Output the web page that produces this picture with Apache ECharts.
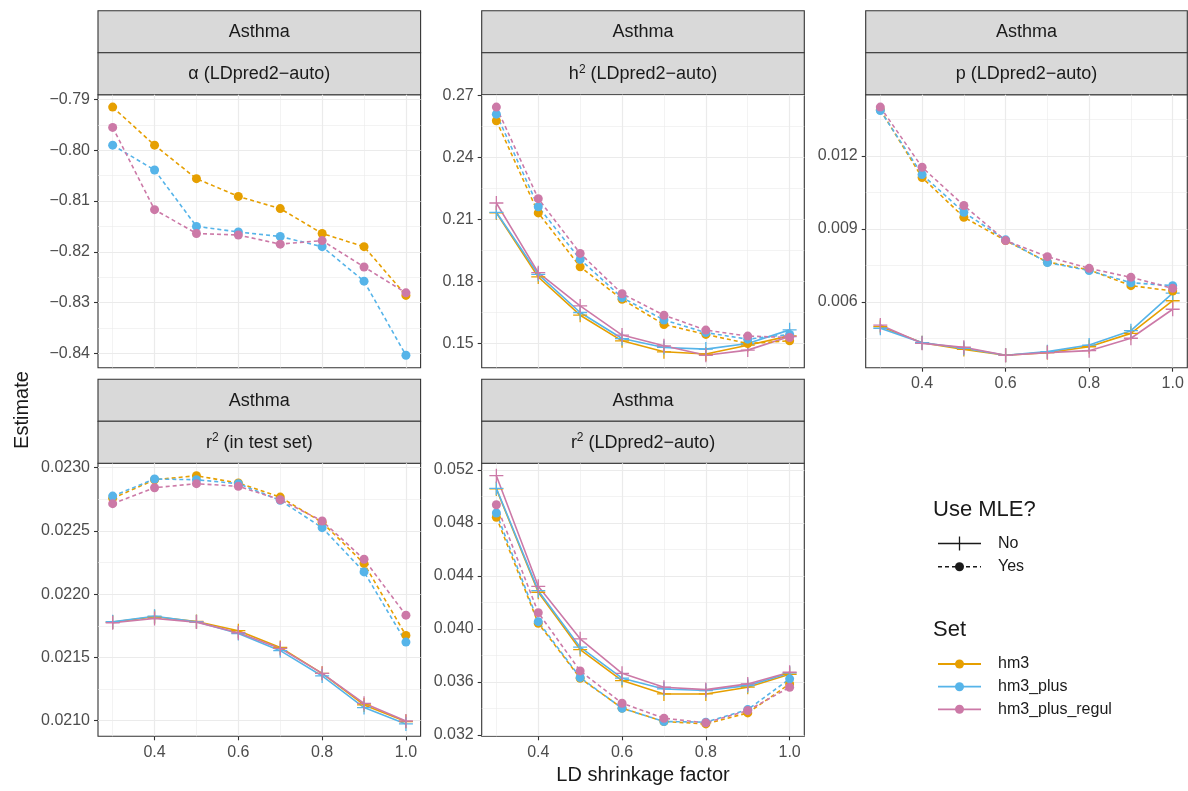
<!DOCTYPE html>
<html>
<head>
<meta charset="utf-8">
<script src="https://cdn.jsdelivr.net/npm/echarts@6/dist/echarts.min.js"></script>
<style>
  html, body { margin: 0; padding: 0; background: #ffffff; }
  #chart { width: 1188px; height: 791px; }
</style>
</head>
<body>
<div id="chart"></div>
<script>
// LD shrinkage factor (x) and the three variant sets
const shrink = [0.3, 0.4, 0.5, 0.6, 0.7, 0.8, 0.9, 1.0];
const shrinkTicks = [0.4, 0.6, 0.8, 1.0];
const sets = ['hm3', 'hm3_plus', 'hm3_plus_regul'];
const setColors = ['#E69F00', '#56B4E9', '#CC79A7'];

// alpha (LDpred2-auto), only estimated with MLE
const alphaYesHm3   = [-0.7915, -0.7990, -0.8056, -0.8091, -0.8115, -0.8164, -0.8190, -0.8286];
const alphaYesPlus  = [-0.7990, -0.8039, -0.8150, -0.8161, -0.8170, -0.8190, -0.8258, -0.8404];
const alphaYesRegul = [-0.7955, -0.8117, -0.8164, -0.8167, -0.8185, -0.8178, -0.8230, -0.8281];
const alphaTicks = [-0.84, -0.83, -0.82, -0.81, -0.80, -0.79];

// h2 (LDpred2-auto)
const h2YesHm3   = [0.2576, 0.2130, 0.1869, 0.1712, 0.1590, 0.1542, 0.1498, 0.1511];
const h2YesPlus  = [0.2608, 0.2160, 0.1905, 0.1720, 0.1612, 0.1551, 0.1519, 0.1542];
const h2YesRegul = [0.2642, 0.2199, 0.1934, 0.1739, 0.1635, 0.1563, 0.1534, 0.1527];
const h2NoHm3    = [0.2130, 0.1820, 0.1635, 0.1511, 0.1458, 0.1447, 0.1490, 0.1535];
const h2NoPlus   = [0.2133, 0.1833, 0.1648, 0.1522, 0.1479, 0.1471, 0.1498, 0.1564];
const h2NoRegul  = [0.2178, 0.1841, 0.1680, 0.1539, 0.1487, 0.1441, 0.1466, 0.1532];
const h2Ticks = [0.15, 0.18, 0.21, 0.24, 0.27];

// p (LDpred2-auto)
const pYesHm3   = [0.01389, 0.01111, 0.00948, 0.00852, 0.00764, 0.00732, 0.00667, 0.00645];
const pYesPlus  = [0.01386, 0.01123, 0.00968, 0.00855, 0.00762, 0.00729, 0.00679, 0.00667];
const pYesRegul = [0.01400, 0.01153, 0.00996, 0.00852, 0.00786, 0.00738, 0.00701, 0.00656];
const pNoHm3    = [0.00499, 0.00433, 0.00405, 0.00381, 0.00392, 0.00416, 0.00471, 0.00605];
const pNoPlus   = [0.00492, 0.00433, 0.00410, 0.00381, 0.00396, 0.00423, 0.00482, 0.00636];
const pNoRegul  = [0.00505, 0.00430, 0.00414, 0.00381, 0.00392, 0.00400, 0.00451, 0.00570];
const pTicks = [0.006, 0.009, 0.012];

// r2 (in test set)
const r2TestYesHm3   = [0.022758, 0.022905, 0.022937, 0.022879, 0.022768, 0.022568, 0.022242, 0.021674];
const r2TestYesPlus  = [0.022776, 0.022911, 0.022905, 0.022874, 0.022742, 0.022526, 0.022176, 0.021621];
const r2TestYesRegul = [0.022716, 0.022842, 0.022874, 0.022853, 0.022747, 0.022579, 0.022276, 0.021834];
const r2TestNoHm3    = [0.021779, 0.021821, 0.021784, 0.021711, 0.021579, 0.021374, 0.021124, 0.020992];
const r2TestNoPlus   = [0.021782, 0.021826, 0.021782, 0.021689, 0.021553, 0.021353, 0.021103, 0.020974];
const r2TestNoRegul  = [0.021774, 0.021808, 0.021779, 0.021695, 0.021571, 0.021374, 0.021137, 0.020997];
const r2TestTicks = [0.0210, 0.0215, 0.0220, 0.0225, 0.0230];

// r2 (LDpred2-auto)
const r2AutoYesHm3   = [0.04843, 0.04043, 0.03628, 0.03402, 0.03301, 0.03283, 0.03366, 0.03585];
const r2AutoYesPlus  = [0.04875, 0.04055, 0.03633, 0.03401, 0.03301, 0.03296, 0.03391, 0.03623];
const r2AutoYesRegul = [0.04938, 0.04123, 0.03683, 0.03439, 0.03326, 0.03291, 0.03384, 0.03560];
const r2AutoNoHm3    = [0.05057, 0.04277, 0.03844, 0.03610, 0.03509, 0.03509, 0.03560, 0.03658];
const r2AutoNoPlus   = [0.05062, 0.04289, 0.03862, 0.03628, 0.03547, 0.03535, 0.03572, 0.03668];
const r2AutoNoRegul  = [0.05157, 0.04322, 0.03925, 0.03665, 0.03560, 0.03542, 0.03585, 0.03673];
const r2AutoTicks = [0.032, 0.036, 0.040, 0.044, 0.048, 0.052];

const FONT = '"Liberation Sans", Arial, Helvetica, sans-serif';
const INK = '#1a1a1a';
const FRAME = '#333333';
const GRID = '#ebebeb';

// facet panels: strip label (rich text), series, y ticks, label digits, grid cell
const panels = [
  { title: '{t|α (LDpred2−auto)}', yes: [alphaYesHm3, alphaYesPlus, alphaYesRegul], no: [],
    ticks: alphaTicks, digits: 2, col: 0, row: 0, showX: false },
  { title: '{t|h}{s|2}{t| (LDpred2−auto)}', yes: [h2YesHm3, h2YesPlus, h2YesRegul], no: [h2NoHm3, h2NoPlus, h2NoRegul],
    ticks: h2Ticks, digits: 2, col: 1, row: 0, showX: false },
  { title: '{t|p (LDpred2−auto)}', yes: [pYesHm3, pYesPlus, pYesRegul], no: [pNoHm3, pNoPlus, pNoRegul],
    ticks: pTicks, digits: 3, col: 2, row: 0, showX: true },
  { title: '{t|r}{s|2}{t| (in test set)}', yes: [r2TestYesHm3, r2TestYesPlus, r2TestYesRegul], no: [r2TestNoHm3, r2TestNoPlus, r2TestNoRegul],
    ticks: r2TestTicks, digits: 4, col: 0, row: 1, showX: true },
  { title: '{t|r}{s|2}{t| (LDpred2−auto)}', yes: [r2AutoYesHm3, r2AutoYesPlus, r2AutoYesRegul], no: [r2AutoNoHm3, r2AutoNoPlus, r2AutoNoRegul],
    ticks: r2AutoTicks, digits: 3, col: 1, row: 1, showX: true }
];

// layout of the facet grid
const colLeft = [98, 481.7, 865.7];
const colWidth = [322.6, 322.6, 321.6];
const rowStripTop = [10.7, 379.3];
const STRIP_H = 42;
const PANEL_H = 273;

// expanded range (5% on each side), like a ggplot continuous scale
function expanded(values) {
  const lo = Math.min(...values), hi = Math.max(...values);
  const pad = (hi - lo) * 0.05;
  return [lo - pad, hi + pad];
}
// minor breaks half-way between major ones, kept inside the range
function minorBreaks(ticks, range) {
  const step = ticks[1] - ticks[0];
  const out = [];
  for (let k = -1; k < ticks.length; k++) {
    const v = ticks[0] + (k + 0.5) * step;
    if (v >= range[0] && v <= range[1]) out.push(+v.toPrecision(10));
  }
  return out;
}
const fmt = (d) => (v) => v.toFixed(d).replace('-', '\u2212');

const xRange = expanded(shrink);
const xMinor = minorBreaks(shrinkTicks, xRange);

const CROSS = 'path://M-0.65,-7H0.65V7H-0.65Z M-7,-0.65H7V0.65H-7Z';

const grids = [], xAxes = [], yAxes = [], series = [], graphics = [];

panels.forEach((pn, i) => {
  const left = colLeft[pn.col], width = colWidth[pn.col];
  const stripTop = rowStripTop[pn.row];
  const top = stripTop + 2 * STRIP_H;
  grids.push({ left, top, width, height: PANEL_H, show: true, backgroundColor: '#ffffff',
    borderColor: FRAME, borderWidth: 1.1, containLabel: false, outerBoundsMode: 'none' });

  const allVals = pn.yes.concat(pn.no).flat();
  const yRange = expanded(allVals);
  const yMinor = minorBreaks(pn.ticks, yRange);

  xAxes.push({
    type: 'value', gridIndex: i, min: xRange[0], max: xRange[1],
    axisLine: { show: false },
    axisTick: { show: pn.showX, customValues: shrinkTicks, length: 4, lineStyle: { color: FRAME, width: 1.1 } },
    axisLabel: { show: pn.showX, customValues: shrinkTicks, formatter: fmt(1), color: '#4d4d4d',
      fontSize: 16, fontFamily: FONT, margin: 8 },
    splitLine: { show: true, lineStyle: { color: GRID, width: 1.2 } }
  });
  xAxes.push({
    type: 'value', gridIndex: i, min: xRange[0], max: xRange[1],
    axisLine: { show: false }, axisTick: { show: false, customValues: xMinor }, axisLabel: { show: false },
    splitLine: { show: true, lineStyle: { color: GRID, width: 0.6 } }
  });
  yAxes.push({
    type: 'value', gridIndex: i, min: yRange[0], max: yRange[1], position: 'left',
    axisLine: { show: false },
    axisTick: { show: true, customValues: pn.ticks, length: 4, lineStyle: { color: FRAME, width: 1.1 } },
    axisLabel: { show: true, customValues: pn.ticks, formatter: fmt(pn.digits), color: '#4d4d4d',
      fontSize: 16, fontFamily: FONT, margin: 8 },
    splitLine: { show: true, lineStyle: { color: GRID, width: 1.2 } }
  });
  yAxes.push({
    type: 'value', gridIndex: i, min: yRange[0], max: yRange[1], position: 'left',
    axisLine: { show: false }, axisTick: { show: false, customValues: yMinor }, axisLabel: { show: false },
    splitLine: { show: true, lineStyle: { color: GRID, width: 0.6 } }
  });

  // solid lines with crosses: no MLE
  pn.no.forEach((arr, s) => {
    series.push({
      type: 'line', name: sets[s] + ' (No)', xAxisIndex: 2 * i, yAxisIndex: 2 * i,
      data: shrink.map((x, j) => [x, arr[j]]),
      symbol: CROSS, symbolSize: 14, showSymbol: true,
      lineStyle: { color: setColors[s], width: 1.6, type: 'solid' },
      itemStyle: { color: setColors[s], borderWidth: 0 },
      silent: true, animation: false, emphasis: { disabled: true }, z: 3
    });
  });
  // dashed lines with dots: MLE
  pn.yes.forEach((arr, s) => {
    series.push({
      type: 'line', name: sets[s] + ' (Yes)', xAxisIndex: 2 * i, yAxisIndex: 2 * i,
      data: shrink.map((x, j) => [x, arr[j]]),
      symbol: 'circle', symbolSize: 9, showSymbol: true,
      lineStyle: { color: setColors[s], width: 1.6, type: [4, 3] },
      itemStyle: { color: setColors[s], borderWidth: 0 },
      silent: true, animation: false, emphasis: { disabled: true }, z: 4
    });
  });

  // two-level strip: trait, then parameter
  const cx = left + width / 2;
  graphics.push({ type: 'rect', shape: { x: left, y: stripTop, width, height: STRIP_H },
    style: { fill: '#d9d9d9', stroke: FRAME, lineWidth: 1.1 }, silent: true });
  graphics.push({ type: 'rect', shape: { x: left, y: stripTop + STRIP_H, width, height: STRIP_H },
    style: { fill: '#d9d9d9', stroke: FRAME, lineWidth: 1.1 }, silent: true });
  graphics.push({ type: 'text', x: cx, y: stripTop + STRIP_H / 2 + 0.5, silent: true,
    style: { text: 'Asthma', fontSize: 18, fontFamily: FONT, fill: INK,
      align: 'center', verticalAlign: 'middle', textAlign: 'center', textVerticalAlign: 'middle' } });
  graphics.push({ type: 'text', x: cx, y: stripTop + STRIP_H * 1.5 + 0.5, silent: true,
    style: { text: pn.title, fontSize: 18, fontFamily: FONT, fill: INK,
      align: 'center', verticalAlign: 'middle', textAlign: 'center', textVerticalAlign: 'middle',
      rich: {
        t: { fontSize: 18, fontFamily: FONT, fill: INK, lineHeight: 22 },
        s: { fontSize: 12, fontFamily: FONT, fill: INK, lineHeight: 12, verticalAlign: 'top' }
      } } });
});

// axis titles
graphics.push({ type: 'text', x: 643, y: 775, silent: true,
  style: { text: 'LD shrinkage factor', fontSize: 20, fontFamily: FONT, fill: INK,
    align: 'center', verticalAlign: 'middle', textAlign: 'center', textVerticalAlign: 'middle' } });
graphics.push({ type: 'text', x: 22, y: 410, rotation: Math.PI / 2, silent: true,
  style: { text: 'Estimate', fontSize: 20, fontFamily: FONT, fill: INK,
    align: 'center', verticalAlign: 'middle', textAlign: 'center', textVerticalAlign: 'middle' } });

// legends
const LX0 = 938, LX1 = 981, LXC = 959.5, LTX = 998;
function legendTitle(text, y) {
  graphics.push({ type: 'text', x: 933, y, silent: true,
    style: { text, fontSize: 22, fontFamily: FONT, fill: INK,
      align: 'left', verticalAlign: 'middle', textAlign: 'left', textVerticalAlign: 'middle' } });
}
function legendLabel(text, y) {
  graphics.push({ type: 'text', x: LTX, y, silent: true,
    style: { text, fontSize: 16, fontFamily: FONT, fill: INK,
      align: 'left', verticalAlign: 'middle', textAlign: 'left', textVerticalAlign: 'middle' } });
}
legendTitle('Use MLE?', 510);
// "No": solid with cross
graphics.push({ type: 'line', shape: { x1: LX0, y1: 543.5, x2: LX1, y2: 543.5 }, silent: true,
  style: { stroke: INK, lineWidth: 1.6 } });
graphics.push({ type: 'line', shape: { x1: LXC, y1: 536.5, x2: LXC, y2: 550.5 }, silent: true,
  style: { stroke: INK, lineWidth: 1.3 } });
legendLabel('No', 543.5);
// "Yes": dashed with dot
graphics.push({ type: 'line', shape: { x1: LX0, y1: 566.7, x2: LX1, y2: 566.7 }, silent: true,
  style: { stroke: INK, lineWidth: 1.6, lineDash: [4, 3] } });
graphics.push({ type: 'circle', shape: { cx: LXC, cy: 566.7, r: 4.5 }, silent: true, style: { fill: INK } });
legendLabel('Yes', 566.7);

legendTitle('Set', 630);
const setY = [664, 686.7, 709.3];
sets.forEach((name, s) => {
  graphics.push({ type: 'line', shape: { x1: LX0, y1: setY[s], x2: LX1, y2: setY[s] }, silent: true,
    style: { stroke: setColors[s], lineWidth: 1.8 } });
  graphics.push({ type: 'circle', shape: { cx: LXC, cy: setY[s], r: 4.5 }, silent: true,
    style: { fill: setColors[s] } });
  legendLabel(name, setY[s]);
});

const chart = echarts.init(document.getElementById('chart'), null, { renderer: 'canvas' });
chart.setOption({
  backgroundColor: '#ffffff',
  animation: false,
  grid: grids,
  xAxis: xAxes,
  yAxis: yAxes,
  series,
  graphic: { elements: graphics }
});
</script>
</body>
</html>
